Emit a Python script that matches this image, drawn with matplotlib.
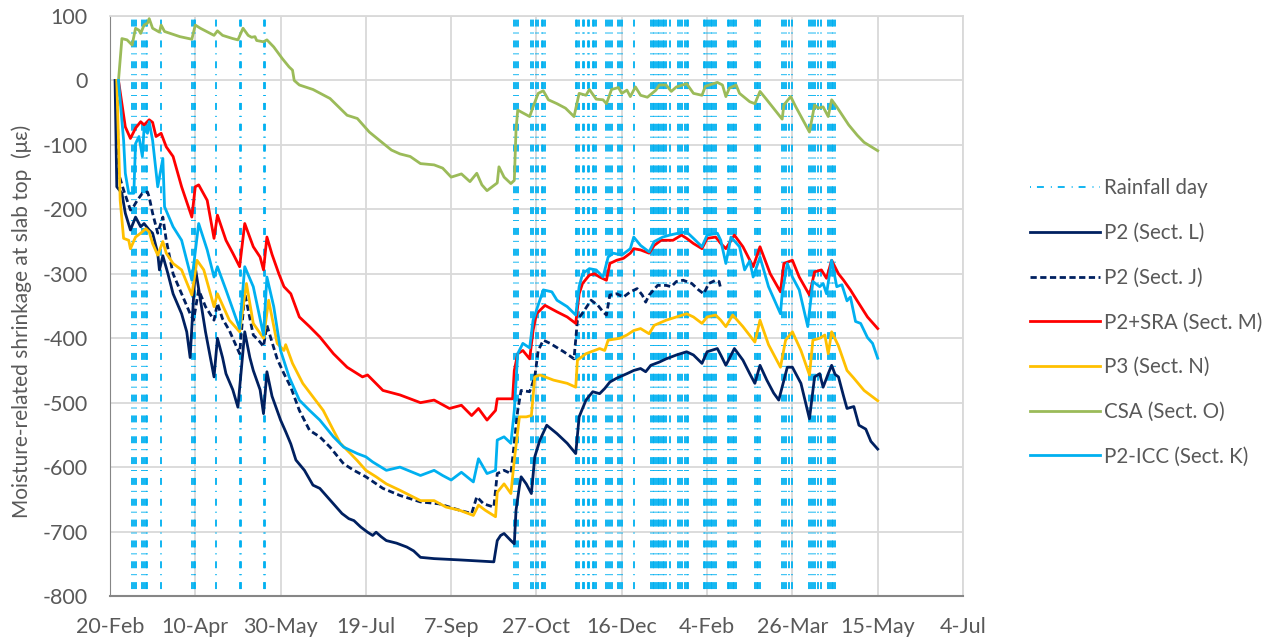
import numpy as np
import matplotlib.pyplot as plt
import matplotlib.dates as mdates
from matplotlib.ticker import FuncFormatter, MultipleLocator

plt.rcParams['font.family'] = ['Lato', 'DejaVu Sans']
plt.rcParams['lines.scale_dashes'] = False
plt.rcParams['axes.unicode_minus'] = False

start = np.datetime64('2020-02-20')

# rainfall days (days after 20-Feb)
rain_days = [13, 14, 15, 19, 20, 21, 22, 30, 48, 49, 50, 62, 76, 77, 90, 91,
             237, 238, 239, 247, 248, 250, 251, 253, 254, 255, 273, 274, 275,
             277, 278, 280, 281, 283, 284, 285, 291, 292, 293, 294, 298, 299,
             300, 307, 317, 318, 319, 320, 321, 322, 323, 324, 325, 326, 328,
             333, 334, 335, 337, 338, 339, 348, 349, 350, 351, 352, 353, 354,
             355, 362, 363, 364, 365, 366, 367, 378, 379, 380, 381, 394, 395,
             396, 398, 400, 410, 411, 412, 413, 415, 417, 421, 422, 423, 424, 425]

# P2 (Sect. L)
l_days = [3, 4, 7, 9, 12, 15, 18, 20, 23, 25, 28, 29, 31, 34, 37, 42, 45, 47, 50, 53,
          56, 61, 63, 66, 68, 72, 75, 79, 82, 84, 88, 90, 92, 95, 100, 103, 106, 109,
          114, 119, 123, 127, 131, 136, 140, 143, 147, 151, 154, 156, 159, 162, 168,
          174, 178, 182, 190, 205, 225, 227, 229, 231, 235, 237, 238, 240, 241, 244,
          247, 249, 252, 256, 262, 268, 273, 275, 279, 283, 287, 290, 293, 297, 303,
          307, 311, 314, 317, 322, 326, 332, 338, 342, 347, 350, 356, 358, 361, 366,
          371, 375, 378, 381, 385, 389, 392, 397, 400, 405, 410, 413, 416, 418, 421,
          423, 425, 427, 430, 432, 436, 439, 443, 446, 450]
l_vals = [0, -165, -175, -206, -232, -212, -227, -222, -232, -237, -268, -294, -272,
          -300, -331, -362, -390, -430, -290, -340, -390, -460, -400, -430, -455, -480,
          -507, -390, -430, -450, -480, -517, -452, -490, -527, -545, -564, -589, -605,
          -628, -633, -645, -657, -672, -680, -683, -693, -701, -706, -701, -708, -714,
          -718, -724, -730, -740, -742, -744, -747, -714, -706, -703, -714, -719, -667,
          -630, -615, -626, -641, -584, -558, -535, -548, -563, -579, -522, -496, -483,
          -486, -478, -468, -462, -455, -450, -447, -452, -442, -437, -432, -426, -421,
          -426, -439, -421, -416, -426, -442, -416, -434, -455, -470, -442, -465, -485,
          -496, -445, -445, -470, -525, -460, -455, -476, -455, -442, -456, -460, -490,
          -509, -506, -535, -541, -560, -572]

# P2 (Sect. J)
j_days = [4, 5, 8, 12, 14, 16, 19, 22, 23, 25, 28, 31, 33, 37, 42, 47, 49, 52, 56, 61,
          63, 66, 70, 76, 79, 84, 88, 90, 92, 98, 102, 106, 111, 117, 123, 129, 137,
          143, 150, 160, 170, 182, 193, 205, 212, 215, 219, 225, 227, 231, 235, 237,
          239, 241, 246, 249, 251, 254, 258, 266, 272, 274, 278, 282, 286, 289, 291,
          293, 297, 301, 305, 309, 312, 314, 316, 321, 326, 329, 332, 336, 341, 345,
          348, 351, 355, 357, 358]
j_vals = [0, -144, -170, -201, -195, -186, -175, -173, -181, -206, -237, -212, -248,
          -300, -331, -362, -372, -325, -351, -372, -346, -370, -388, -424, -330, -395,
          -406, -413, -380, -432, -455, -476, -512, -543, -553, -569, -595, -605, -615,
          -633, -644, -654, -657, -667, -672, -646, -657, -662, -610, -605, -610, -563,
          -512, -481, -483, -460, -419, -403, -408, -421, -432, -372, -357, -341, -349,
          -359, -364, -333, -331, -336, -328, -323, -333, -344, -333, -318, -318, -320,
          -312, -310, -315, -325, -331, -315, -310, -312, -323]

# P2+SRA (Sect. M)
m_days = [5, 9, 12, 15, 18, 20, 23, 25, 27, 30, 33, 37, 42, 48, 50, 52, 57, 61, 63, 68,
          72, 76, 79, 84, 88, 90, 92, 95, 99, 102, 106, 111, 117, 123, 131, 139, 148,
          151, 160, 170, 182, 190, 199, 206, 212, 216, 221, 226, 227, 236, 237, 239,
          242, 246, 248, 250, 255, 262, 268, 273, 275, 277, 281, 284, 287, 291, 293,
          297, 301, 305, 307, 311, 316, 319, 323, 330, 335, 338, 342, 347, 350, 355,
          358, 361, 366, 371, 377, 381, 387, 393, 395, 400, 404, 410, 413, 417, 420,
          423, 427, 430, 434, 438, 444, 450]
m_vals = [0, -72, -90, -74, -64, -69, -61, -65, -87, -82, -103, -118, -165, -212, -165,
          -162, -186, -245, -209, -248, -268, -289, -222, -258, -274, -294, -243, -270,
          -300, -320, -331, -367, -382, -398, -424, -445, -460, -457, -481, -488, -500,
          -496, -509, -504, -520, -509, -527, -512, -494, -494, -450, -424, -419, -432,
          -388, -362, -349, -359, -367, -377, -331, -315, -302, -300, -305, -310, -284,
          -279, -276, -268, -261, -263, -268, -256, -248, -248, -240, -245, -253, -261,
          -245, -243, -253, -261, -240, -258, -289, -258, -300, -328, -284, -279, -305,
          -333, -297, -294, -307, -279, -300, -310, -325, -342, -367, -385]

# P3 (Sect. N)
n_days = [4, 6, 8, 11, 12, 15, 18, 21, 23, 25, 28, 31, 33, 37, 42, 48, 51, 55, 61, 63,
          70, 76, 80, 84, 90, 93, 98, 102, 103, 107, 113, 119, 125, 131, 135, 141, 145,
          150, 156, 162, 170, 182, 190, 197, 205, 213, 216, 220, 226, 227, 231, 235,
          237, 240, 244, 247, 249, 252, 260, 268, 273, 274, 279, 287, 290, 292, 299,
          303, 307, 311, 316, 319, 326, 332, 338, 342, 347, 350, 355, 358, 361, 365,
          371, 378, 381, 386, 393, 396, 400, 405, 410, 412, 416, 419, 421, 423, 427,
          432, 436, 442, 450]
n_vals = [0, -186, -245, -248, -261, -243, -237, -230, -235, -253, -271, -250, -268,
          -284, -294, -333, -279, -294, -351, -331, -372, -390, -315, -377, -400, -341,
          -408, -419, -410, -439, -470, -491, -512, -543, -563, -579, -590, -605, -615,
          -626, -636, -652, -652, -662, -667, -675, -659, -667, -677, -639, -626, -641,
          -589, -522, -522, -520, -460, -457, -465, -470, -476, -434, -424, -416, -419,
          -403, -400, -395, -388, -385, -393, -380, -372, -367, -362, -367, -377, -367,
          -364, -372, -382, -364, -382, -406, -372, -410, -445, -403, -390, -419, -457,
          -403, -400, -395, -424, -390, -412, -450, -462, -481, -497]

# CSA (Sect. O)
o_days = [5, 7, 10, 13, 15, 17, 18, 20, 22, 23, 25, 29, 30, 32, 41, 48, 50, 53, 61, 63,
          66, 72, 75, 78, 81, 83, 85, 86, 90, 92, 96, 101, 105, 107, 108, 111, 119, 129,
          139, 145, 152, 158, 165, 170, 176, 182, 190, 195, 200, 206, 211, 215, 218,
          221, 227, 228, 231, 235, 237, 238, 239, 246, 248, 251, 254, 257, 262, 267,
          272, 275, 279, 281, 285, 289, 291, 294, 298, 300, 303, 305, 308, 311, 315,
          320, 322, 326, 329, 332, 338, 342, 347, 349, 356, 359, 361, 363, 367, 369,
          375, 378, 381, 385, 394, 395, 399, 402, 410, 413, 415, 418, 421, 423, 426,
          433, 438, 442, 450]
o_vals = [0, 65, 63, 55, 81, 78, 73, 86, 89, 96, 81, 75, 86, 76, 68, 64, 86, 81, 70, 77,
          70, 65, 63, 81, 70, 67, 68, 62, 60, 63, 52, 34, 21, 16, 0, -7, -14, -28, -54,
          -59, -80, -93, -108, -114, -118, -129, -131, -136, -150, -145, -157, -144,
          -162, -171, -159, -134, -150, -160, -155, -77, -46, -56, -41, -20, -16, -30,
          -36, -43, -56, -20, -23, -14, -29, -30, -36, -14, -11, -20, -15, -25, -10, -23,
          -26, -15, -7, -7, -17, -10, -5, -20, -23, -9, -3, -7, -25, -12, -7, -20, -33,
          -36, -17, -30, -60, -38, -25, -41, -80, -38, -43, -41, -56, -30, -41, -69, -85,
          -96, -109]

# P2-ICC (Sect. K)
k_days = [5, 8, 9, 11, 14, 15, 17, 19, 20, 22, 23, 25, 28, 31, 32, 37, 42, 48, 52, 57,
          61, 63, 68, 76, 79, 84, 90, 92, 96, 100, 105, 111, 117, 123, 131, 137, 145,
          150, 154, 162, 170, 182, 190, 195, 200, 206, 213, 216, 221, 226, 227, 231,
          235, 237, 239, 242, 246, 248, 254, 259, 262, 268, 273, 275, 277, 281, 285,
          289, 292, 295, 300, 305, 307, 311, 316, 319, 324, 328, 333, 338, 342, 347,
          350, 356, 358, 361, 364, 369, 372, 375, 377, 381, 386, 393, 394, 397, 400,
          404, 409, 412, 416, 418, 420, 423, 426, 429, 432, 434, 437, 440, 444, 447, 450]
k_vals = [0, -93, -144, -175, -175, -98, -87, -118, -74, -82, -64, -93, -165, -121,
          -196, -227, -248, -310, -222, -263, -305, -289, -325, -385, -289, -320, -395,
          -305, -351, -419, -460, -496, -512, -527, -553, -569, -579, -584, -592, -605,
          -600, -613, -605, -613, -620, -608, -623, -587, -610, -605, -558, -553, -563,
          -512, -424, -408, -415, -372, -325, -328, -341, -351, -364, -320, -300, -292,
          -294, -305, -274, -268, -271, -261, -243, -256, -266, -250, -243, -240, -237,
          -235, -245, -258, -240, -237, -248, -284, -243, -258, -294, -280, -305, -274,
          -320, -362, -331, -284, -305, -325, -382, -312, -320, -315, -331, -279, -320,
          -317, -342, -336, -374, -377, -399, -408, -431]

series = [
    ('P2 (Sect. L)', l_days, l_vals, '#002060', '-'),
    ('P2 (Sect. J)', j_days, j_vals, '#002060', (0, (4.5, 2.5))),
    ('P2+SRA (Sect. M)', m_days, m_vals, '#FF0000', '-'),
    ('P3 (Sect. N)', n_days, n_vals, '#FFC000', '-'),
    ('CSA (Sect. O)', o_days, o_vals, '#9BBB59', '-'),
    ('P2-ICC (Sect. K)', k_days, k_vals, '#00B0F0', '-'),
]


def to_dates(days):
    return start + np.array(days).astype('timedelta64[D]')


fig = plt.figure(figsize=(12.83, 6.41), dpi=100)
ax = fig.add_axes([0.0857, 0.0702, 0.6649, 0.9048])

ax.vlines(to_dates(rain_days), -800, 100, colors='#00B0F0', linewidth=1.3,
          linestyles=[(0, (0.7, 4.3, 5.0, 5.0))], label='Rainfall day', zorder=1)

for name, d, v, col, ls in series:
    ax.plot(to_dates(d), v, color=col, linestyle=ls, linewidth=2.0,
            label=name, zorder=3, solid_joinstyle='round')

ax.set_ylim(-800, 100)
ax.yaxis.set_major_locator(MultipleLocator(100))
ax.set_xlim(start, start + np.timedelta64(500, 'D'))
ax.set_xticks(to_dates([0, 50, 100, 150, 200, 250, 300, 350, 400, 450, 500]))
ax.xaxis.set_major_formatter(FuncFormatter(
    lambda x, p: '{}-{}'.format(mdates.num2date(x).day, mdates.num2date(x).strftime('%b'))))

ax.grid(True, color='#D9D9D9', linewidth=1.3, zorder=0)
ax.set_axisbelow(True)
for s in ['top', 'right']:
    ax.spines[s].set_color('#D9D9D9')
    ax.spines[s].set_linewidth(1.3)
ax.spines['left'].set_color('#868686')
ax.spines['bottom'].set_color('#868686')
ax.spines['bottom'].set_linewidth(1.5)
ax.tick_params(length=0, labelsize=15.5, labelcolor='#595959')
ax.tick_params(axis='y', pad=16)
ax.tick_params(axis='x', pad=15)

fig.text(0.017, 0.498, 'Moisture-related shrinkage at slab top  (\u03bc\u03b5)',
         rotation=90, ha='center', va='center', fontsize=15, color='#595959')

leg = ax.legend(loc='center left', bbox_to_anchor=(0.7884, 0.497),
                bbox_transform=fig.transFigure, frameon=False, fontsize=14.8,
                handlelength=3.4, labelspacing=1.2, handletextpad=0.2)
for t in leg.get_texts():
    t.set_color('#595959')

fig.savefig('out.png', dpi=100)
